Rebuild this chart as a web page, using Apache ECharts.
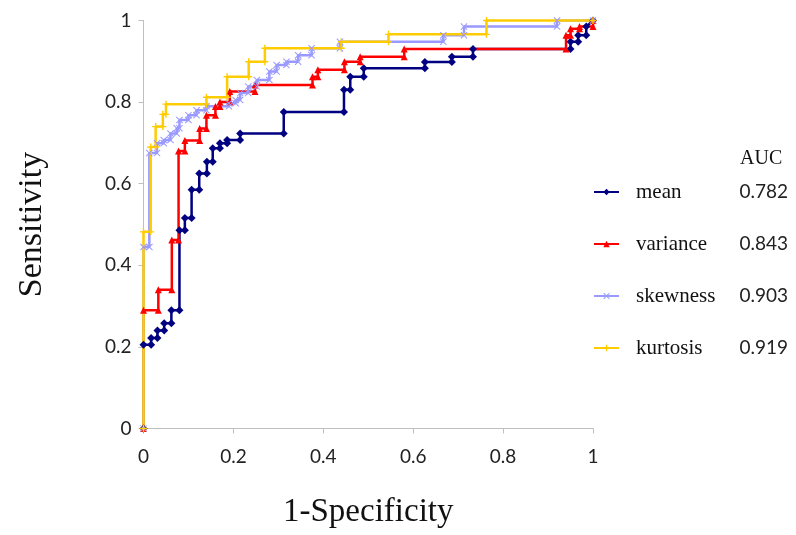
<!DOCTYPE html>
<html>
<head>
<meta charset="utf-8">
<script src="https://cdn.jsdelivr.net/npm/echarts@6/dist/echarts.min.js"></script>
<style>
  html, body { margin: 0; padding: 0; background: #fff; }
  #roc { width: 796px; height: 535px; }
</style>
</head>
<body>
<div id="roc"></div>
<script>
// ROC curve vertices [1-specificity, sensitivity]
const meanPts = [
    [0, 0], [0, 0.205], [0.017, 0.205], [0.017, 0.222], [0.031, 0.222], [0.031, 0.24],
    [0.046, 0.24], [0.046, 0.258], [0.062, 0.258], [0.062, 0.29], [0.08, 0.29], [0.08, 0.486],
    [0.092, 0.486], [0.092, 0.516], [0.107, 0.516], [0.107, 0.585], [0.124, 0.585], [0.124, 0.625],
    [0.141, 0.625], [0.141, 0.654], [0.154, 0.654], [0.154, 0.687], [0.17, 0.687], [0.17, 0.699],
    [0.186, 0.699], [0.186, 0.707], [0.215, 0.707], [0.215, 0.723], [0.312, 0.723], [0.312, 0.776],
    [0.446, 0.776], [0.446, 0.83], [0.46, 0.83], [0.46, 0.862], [0.49, 0.862], [0.49, 0.883],
    [0.626, 0.883], [0.626, 0.898], [0.686, 0.898], [0.686, 0.911], [0.733, 0.911], [0.733, 0.93],
    [0.95, 0.93], [0.95, 0.948], [0.967, 0.948], [0.967, 0.964], [0.985, 0.964], [0.985, 0.985], [1, 1]
]

const variancePts = [
    [0, 0], [0, 0.29], [0.033, 0.29], [0.033, 0.34], [0.063, 0.34], [0.063, 0.462],
    [0.078, 0.462], [0.078, 0.68], [0.092, 0.68], [0.092, 0.706], [0.125, 0.706], [0.125, 0.735],
    [0.14, 0.735], [0.14, 0.768], [0.16, 0.768], [0.16, 0.789], [0.17, 0.789], [0.17, 0.80],
    [0.192, 0.80], [0.192, 0.826], [0.248, 0.826], [0.248, 0.842], [0.376, 0.842], [0.376, 0.862],
    [0.388, 0.862], [0.388, 0.879], [0.447, 0.879], [0.447, 0.899], [0.482, 0.899], [0.482, 0.911],
    [0.58, 0.911], [0.58, 0.93], [0.94, 0.93], [0.94, 0.964], [0.95, 0.964], [0.95, 0.98],
    [0.97, 0.98], [0.97, 0.985], [1, 0.985], [1, 1]
]

const skewnessPts = [
    [0, 0], [0, 0.445], [0.013, 0.445], [0.013, 0.675], [0.03, 0.675], [0.03, 0.699],
    [0.045, 0.699], [0.045, 0.707], [0.06, 0.707], [0.06, 0.723], [0.074, 0.723], [0.074, 0.736],
    [0.08, 0.736], [0.08, 0.756], [0.1, 0.756], [0.1, 0.768], [0.118, 0.768], [0.118, 0.78],
    [0.14, 0.78], [0.14, 0.79], [0.19, 0.79], [0.19, 0.797], [0.205, 0.797], [0.205, 0.805],
    [0.215, 0.805], [0.215, 0.822], [0.233, 0.822], [0.233, 0.838], [0.252, 0.838], [0.252, 0.854],
    [0.28, 0.854], [0.28, 0.875], [0.296, 0.875], [0.296, 0.891], [0.318, 0.891], [0.318, 0.899],
    [0.344, 0.899], [0.344, 0.915], [0.374, 0.915], [0.374, 0.932], [0.437, 0.932], [0.437, 0.948],
    [0.667, 0.948], [0.667, 0.964], [0.713, 0.964], [0.713, 0.985], [0.92, 0.985], [0.92, 1], [1, 1]
]

const kurtosisPts = [
    [0, 0], [0, 0.482], [0.016, 0.482], [0.016, 0.69], [0.027, 0.69], [0.027, 0.74],
    [0.043, 0.74], [0.043, 0.77], [0.05, 0.77], [0.05, 0.795], [0.14, 0.795], [0.14, 0.812],
    [0.186, 0.812], [0.186, 0.862], [0.234, 0.862], [0.234, 0.899], [0.27, 0.899], [0.27, 0.932],
    [0.44, 0.932], [0.44, 0.948], [0.545, 0.948], [0.545, 0.966], [0.763, 0.966], [0.763, 1], [1, 1]
]

const seriesNames = ['mean', 'variance', 'skewness', 'kurtosis']
const aucValues = ['0.782', '0.843', '0.903', '0.919']
const seriesPts = [meanPts, variancePts, skewnessPts, kurtosisPts]

const colors = ['#000080', '#FF0000', '#9999FF', '#FFCC00']
const symbols = [
    'diamond',
    'triangle',
    'path://M0,1L1,0L5,4L9,0L10,1L6,5L10,9L9,10L5,6L1,10L0,9L4,5Z', // 星号
    'path://M4,0H6V4H10V6H6V10H4V6H0V4H4Z' // 加号
]

let myChart = echarts.init(document.querySelector('#roc'))

const axisGray = '#BFBFBF'

const option = {
    animation: false,
    backgroundColor: '#fff',
    grid: {
        left: 143.5,
        right: 203,
        top: 20.5,
        bottom: 106.5
    },
    xAxis: {
        type: 'value',
        min: 0,
        max: 1,
        interval: 0.2,
        name: '1-Specificity',
        nameLocation: 'middle',
        nameGap: 67,
        nameTextStyle: {
            fontFamily: 'Liberation Serif',
            fontSize: 33,
            color: '#111'
        },
        axisLine: { lineStyle: { color: axisGray } },
        axisTick: { show: true, length: 5, lineStyle: { color: axisGray } },
        splitLine: { show: false },
        axisLabel: {
            margin: 19,
            fontFamily: 'Lato',
            fontSize: 19,
            color: '#222'
        }
    },
    yAxis: {
        type: 'value',
        min: 0,
        max: 1,
        interval: 0.2,
        name: 'Sensitivity',
        nameLocation: 'middle',
        nameGap: 94,
        nameTextStyle: {
            fontFamily: 'Liberation Serif',
            fontSize: 34,
            color: '#111'
        },
        axisLine: { show: true, lineStyle: { color: axisGray } },
        axisTick: { show: true, length: 5, lineStyle: { color: axisGray } },
        splitLine: { show: false },
        axisLabel: {
            margin: 12,
            fontFamily: 'Lato',
            fontSize: 19,
            color: '#222'
        }
    },
    legend: {
        orient: 'vertical',
        left: 588,
        top: 175,
        itemGap: 28,
        itemWidth: 25,
        itemHeight: 8,
        data: seriesNames,
        formatter: function (name) {
            const i = seriesNames.indexOf(name)
            return '{s| }{n|' + name + '}{v|' + aucValues[i] + '}'
        },
        textStyle: {
            lineHeight: 24,
            rich: {
                s: { width: 12 },
                n: { width: 106, fontFamily: 'Liberation Serif', fontSize: 21, color: '#111' },
                v: { width: 46, align: 'right', fontFamily: 'Lato', fontSize: 19, color: '#222' }
            }
        }
    },
    graphic: [{
        type: 'text',
        left: 740,
        top: 149,
        style: {
            text: 'AUC',
            font: '20px "Liberation Serif"',
            fill: '#111'
        }
    }],
    series: seriesNames.map(function (name, i) {
        return {
            name: name,
            type: 'line',
            data: seriesPts[i],
            clip: false,
            symbol: symbols[i],
            symbolSize: i === 0 ? 8 : 7,
            showAllSymbol: true,
            color: colors[i],
            lineStyle: { width: 2.5, color: colors[i] },
            itemStyle: { color: colors[i] }
        }
    })
}

myChart.setOption(option)
</script>
</body>
</html>
